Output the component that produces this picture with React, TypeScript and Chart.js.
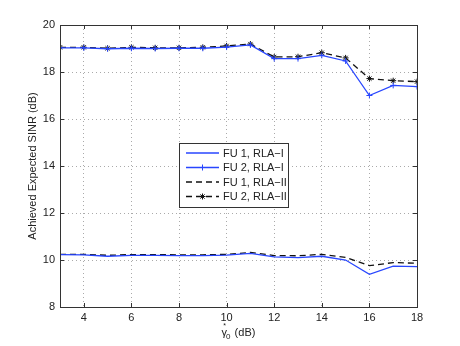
import React, { useEffect, useRef } from "react";
import { Chart, registerables } from "chart.js";

Chart.register(...registerables);

const xValues = [3, 4, 5, 6, 7, 8, 9, 10, 11, 12, 13, 14, 15, 16, 17, 18];
const fu1RlaI = [10.23, 10.22, 10.16, 10.2, 10.2, 10.19, 10.19, 10.21, 10.28, 10.13, 10.1, 10.16, 10.0, 9.39, 9.74, 9.72];
const fu2RlaI = [19.03, 19.03, 18.99, 19.01, 19.0, 19.01, 19.01, 19.06, 19.15, 18.57, 18.57, 18.71, 18.47, 17.0, 17.43, 17.38];
const fu1RlaII = [10.24, 10.24, 10.2, 10.23, 10.23, 10.22, 10.22, 10.24, 10.32, 10.19, 10.18, 10.24, 10.11, 9.76, 9.89, 9.86];
const fu2RlaII = [19.05, 19.05, 19.01, 19.05, 19.03, 19.03, 19.05, 19.11, 19.19, 18.64, 18.65, 18.82, 18.6, 17.72, 17.63, 17.59];
const xTicks = [4, 6, 8, 10, 12, 14, 16, 18];
const yTicks = [8, 10, 12, 14, 16, 18, 20];
const legendLabels = ["FU 1, RLA\u2212I", "FU 2, RLA\u2212I", "FU 1, RLA\u2212II", "FU 2, RLA\u2212II"];
const yTitle = "Achieved Expected SINR (dB)";

const BLUE = "rgb(40,70,255)";
const FONT = "'Liberation Sans', Arial, sans-serif";

const pts = (ys: number[]) => xValues.map((x, i) => ({ x, y: ys[i] }));

function drawMarker(ctx: CanvasRenderingContext2D, style: string, x: number, y: number, r: number, color: string) {
  ctx.save();
  ctx.strokeStyle = color;
  ctx.lineWidth = 1;
  ctx.setLineDash([]);
  ctx.beginPath();
  if (style === "cross" || style === "star") {
    ctx.moveTo(x - r, y);
    ctx.lineTo(x + r, y);
    ctx.moveTo(x, y - r);
    ctx.lineTo(x, y + r);
  }
  if (style === "star") {
    const d = r * 0.7071;
    ctx.moveTo(x - d, y - d);
    ctx.lineTo(x + d, y + d);
    ctx.moveTo(x - d, y + d);
    ctx.lineTo(x + d, y - d);
  }
  ctx.stroke();
  ctx.restore();
}

const framePlugin = {
  id: "frame",
  afterDraw(chart: any) {
    const { ctx, chartArea: a, scales } = chart;
    ctx.save();
    // frame
    ctx.strokeStyle = "#333";
    ctx.lineWidth = 1;
    ctx.setLineDash([]);
    ctx.strokeRect(Math.round(a.left) + 0.5, Math.round(a.top) + 0.5, Math.round(a.right - a.left), Math.round(a.bottom - a.top));
    // inward ticks
    const tl = 4;
    ctx.beginPath();
    xTicks.forEach((v) => {
      const px = Math.round(scales.x.getPixelForValue(v)) + 0.5;
      ctx.moveTo(px, a.bottom);
      ctx.lineTo(px, a.bottom - tl);
      ctx.moveTo(px, a.top);
      ctx.lineTo(px, a.top + tl);
    });
    yTicks.forEach((v) => {
      const py = Math.round(scales.y.getPixelForValue(v)) + 0.5;
      ctx.moveTo(a.left, py);
      ctx.lineTo(a.left + tl, py);
      ctx.moveTo(a.right, py);
      ctx.lineTo(a.right - tl, py);
    });
    ctx.stroke();

    // y title
    ctx.fillStyle = "#222";
    ctx.font = `11px ${FONT}`;
    ctx.save();
    ctx.translate(33, (a.top + a.bottom) / 2);
    ctx.rotate(-Math.PI / 2);
    ctx.textAlign = "center";
    ctx.textBaseline = "middle";
    ctx.fillText(yTitle, 0, 0);
    ctx.restore();

    // x title: gamma with * above and subscript 0
    ctx.textBaseline = "alphabetic";
    ctx.textAlign = "left";
    const cx = (a.left + a.right) / 2;
    const baseY = 336;
    ctx.font = `11px ${FONT}`;
    const gW = ctx.measureText("\u03b3").width;
    ctx.font = `8px ${FONT}`;
    const subW = ctx.measureText("0").width;
    ctx.font = `11px ${FONT}`;
    const restW = ctx.measureText(" (dB)").width;
    const total = gW + subW + restW;
    const x0 = cx - total / 2;
    ctx.fillText("\u03b3", x0, baseY);
    ctx.font = `7px ${FONT}`;
    ctx.fillText("*", x0 + gW / 2 - 1, baseY - 8);
    ctx.font = `8px ${FONT}`;
    ctx.fillText("0", x0 + gW - 1, baseY + 3);
    ctx.font = `11px ${FONT}`;
    ctx.fillText(" (dB)", x0 + gW + subW, baseY);

    // legend
    const lx = 179.5, ly = 143.5, lw = 109, lh = 64;
    ctx.fillStyle = "#fff";
    ctx.fillRect(lx, ly, lw, lh);
    ctx.strokeStyle = "#333";
    ctx.lineWidth = 1;
    ctx.strokeRect(lx, ly, lw, lh);
    const rows = [153, 167.5, 182, 196.5];
    chart.data.datasets.forEach((ds: any, i: number) => {
      const y = rows[i];
      ctx.strokeStyle = ds.borderColor;
      ctx.lineWidth = ds.borderWidth;
      ctx.setLineDash(ds.borderDash || []);
      ctx.beginPath();
      ctx.moveTo(186, y);
      ctx.lineTo(219, y);
      ctx.stroke();
      ctx.setLineDash([]);
      if (ds.pointStyle && ds.pointRadius > 0) {
        drawMarker(ctx, ds.pointStyle, 202.5, y, ds.pointRadius, ds.borderColor);
      }
      ctx.fillStyle = "#222";
      ctx.font = `11px ${FONT}`;
      ctx.textBaseline = "middle";
      ctx.textAlign = "left";
      ctx.fillText(legendLabels[i], 223, y + 0.5);
    });
    ctx.restore();
  },
};

export default function App() {
  const ref = useRef<HTMLCanvasElement | null>(null);
  useEffect(() => {
    document.body.style.margin = "0";
    const canvas = ref.current!;
    const chart = new Chart(canvas, {
      type: "line",
      data: {
        datasets: [
          { label: legendLabels[0], data: pts(fu1RlaI), borderColor: BLUE, backgroundColor: BLUE, borderWidth: 1.3, pointRadius: 0, tension: 0 },
          { label: legendLabels[1], data: pts(fu2RlaI), borderColor: BLUE, backgroundColor: BLUE, borderWidth: 1.3, pointStyle: "cross", pointRadius: 3, pointBorderWidth: 1, tension: 0 },
          { label: legendLabels[2], data: pts(fu1RlaII), borderColor: "#111", backgroundColor: "#111", borderWidth: 1.3, borderDash: [6, 4], pointRadius: 0, tension: 0 },
          { label: legendLabels[3], data: pts(fu2RlaII), borderColor: "#111", backgroundColor: "#111", borderWidth: 1.3, borderDash: [6, 4], pointStyle: "star", pointRadius: 3, pointBorderWidth: 1, tension: 0 },
        ],
      },
      options: {
        animation: false,
        responsive: false,
        maintainAspectRatio: false,
        layout: { padding: { top: 25, right: 43, left: 0, bottom: 0 } },
        plugins: { legend: { display: false }, tooltip: { enabled: false } },
        scales: {
          x: {
            type: "linear",
            min: 3,
            max: 18,
            afterBuildTicks: (s: any) => { s.ticks = xTicks.map((v) => ({ value: v })); },
            afterFit: (s: any) => { s.height = 39; },
            grid: { color: "#aaa", lineWidth: 1, drawTicks: false },
            border: { display: false, dash: [1, 3] },
            ticks: { color: "#222", font: { family: FONT, size: 11 }, padding: 4, maxRotation: 0 },
          },
          y: {
            type: "linear",
            min: 8,
            max: 20,
            afterBuildTicks: (s: any) => { s.ticks = yTicks.map((v) => ({ value: v })); },
            afterFit: (s: any) => { s.width = 60; },
            grid: { color: "#aaa", lineWidth: 1, drawTicks: false },
            border: { display: false, dash: [1, 3] },
            ticks: { color: "#222", font: { family: FONT, size: 11 }, padding: 5 },
            title: { display: false, text: yTitle },
          },
        },
      },
      plugins: [framePlugin],
    } as any);
    return () => chart.destroy();
  }, []);
  return (
    <div style={{ position: "absolute", left: 0, top: 0, width: 460, height: 346 }}>
      <canvas ref={ref} width={460} height={346} style={{ width: 460, height: 346, display: "block" }} />
    </div>
  );
}
